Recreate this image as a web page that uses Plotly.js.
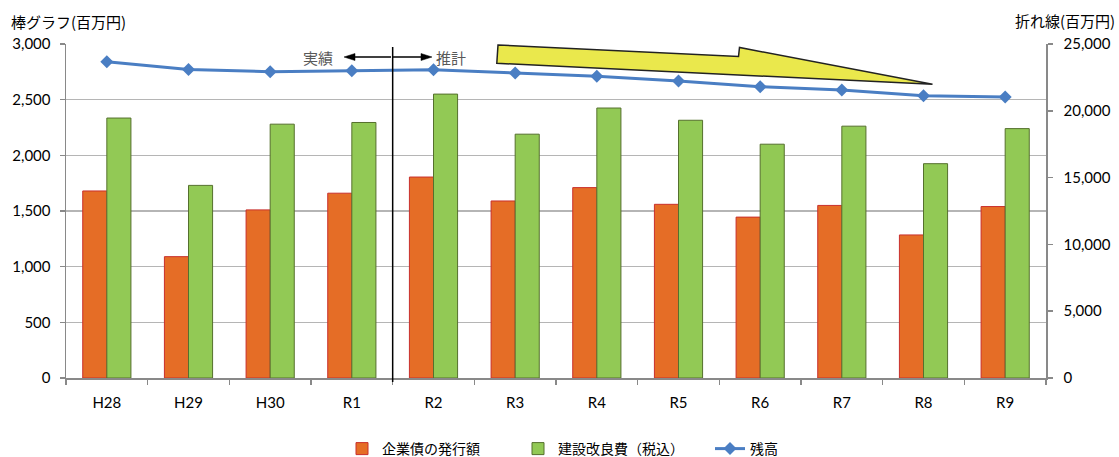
<!DOCTYPE html>
<html>
<head>
<meta charset="utf-8">
<script src="https://cdn.plot.ly/plotly-3.0.1.min.js"></script>
<style>
  html, body { margin: 0; padding: 0; background: #fff; }
  #chart { width: 1119px; height: 457px; }
</style>
</head>
<body>
<div id="chart"></div>
<script>
// Fiscal years
const categories = ['H28', 'H29', 'H30', 'R1', 'R2', 'R3', 'R4', 'R5', 'R6', 'R7', 'R8', 'R9'];
// 企業債の発行額 (百万円, left axis)
const bondIssue = [1680, 1090, 1510, 1660, 1805, 1590, 1710, 1560, 1445, 1550, 1285, 1540];
// 建設改良費（税込） (百万円, left axis)
const capex = [2335, 1730, 2280, 2295, 2550, 2190, 2425, 2315, 2100, 2262, 1925, 2240];
// 残高 (百万円, right axis)
const balance = [23670, 23100, 22930, 23000, 23080, 22830, 22580, 22230, 21800, 21560, 21130, 21030];

const leftTicks = [0, 500, 1000, 1500, 2000, 2500, 3000];
const rightTicks = [0, 5000, 10000, 15000, 20000, 25000];

const W = 1119, H = 457;
const M = { l: 66, r: 73, t: 44, b: 79, autoexpand: false };
const PW = W - M.l - M.r, PH = H - M.t - M.b;
// pixel position -> paper coordinate (for decorations only)
const px = x => (x - M.l) / PW;
const py = y => (H - M.b - y) / PH;

const FONT = 'Lato, "Liberation Sans", sans-serif';
const JP = '"Noto Sans CJK JP", "Noto Sans", sans-serif';
const AXIS = '#898989';

const traces = [
  {
    type: 'bar', name: '企業債の発行額', x: categories, y: bondIssue, yaxis: 'y', legendwidth: 131,
    marker: { color: '#E56D26', line: { color: '#C9302C', width: 1 } }
  },
  {
    type: 'bar', name: '建設改良費（税込）', x: categories, y: capex, yaxis: 'y', legendwidth: 147,
    marker: { color: '#92C955', line: { color: '#55702D', width: 1 } }
  },
  {
    type: 'scatter', mode: 'lines+markers', name: '残高', x: categories, y: balance, yaxis: 'y2',
    line: { color: '#4A7EC3', width: 3 },
    marker: { symbol: 'diamond', size: 10, color: '#4A7EC3' }
  }
];

// "実績 ← | → 推計" divider and arrows, plus the decreasing-trend wedge
const shapes = [
  { type: 'line', xref: 'x', yref: 'paper', x0: 3.5, x1: 3.5, y0: py(382), y1: py(47),
    line: { color: '#000', width: 1.5 } },
  { type: 'line', xref: 'paper', yref: 'paper', x0: px(391), x1: px(352), y0: py(57), y1: py(57),
    line: { color: '#000', width: 1.5 } },
  { type: 'path', xref: 'paper', yref: 'paper',
    path: `M ${px(344)},${py(57)} L ${px(355)},${py(53.5)} L ${px(355)},${py(60.5)} Z`,
    fillcolor: '#000', line: { color: '#000', width: 0.5 } },
  { type: 'line', xref: 'paper', yref: 'paper', x0: px(393), x1: px(423), y0: py(57), y1: py(57),
    line: { color: '#000', width: 1.5 } },
  { type: 'path', xref: 'paper', yref: 'paper',
    path: `M ${px(432)},${py(57)} L ${px(421)},${py(53.5)} L ${px(421)},${py(60.5)} Z`,
    fillcolor: '#000', line: { color: '#000', width: 0.5 } },
  { type: 'path', xref: 'paper', yref: 'paper',
    path: `M ${px(498)},${py(45)} L ${px(738.5)},${py(56.5)} L ${px(739.5)},${py(47.5)} ` +
          `L ${px(932.5)},${py(84.3)} L ${px(496.8)},${py(63.3)} Z`,
    fillcolor: '#EAE84C', line: { color: '#222', width: 1.5 } }
];

const annotations = [
  { text: '棒グラフ(百万円)', xref: 'paper', yref: 'paper', x: px(9), y: py(21),
    xanchor: 'left', yanchor: 'middle', showarrow: false, font: { family: JP, size: 15, color: '#000' } },
  { text: '折れ線(百万円)', xref: 'paper', yref: 'paper', x: px(1117), y: py(20),
    xanchor: 'right', yanchor: 'middle', showarrow: false, font: { family: JP, size: 15, color: '#000' } },
  { text: '実績', xref: 'paper', yref: 'paper', x: px(318), y: py(57),
    xanchor: 'center', yanchor: 'middle', showarrow: false, font: { family: JP, size: 15, color: '#595959' } },
  { text: '推計', xref: 'paper', yref: 'paper', x: px(451), y: py(57),
    xanchor: 'center', yanchor: 'middle', showarrow: false, font: { family: JP, size: 15, color: '#595959' } }
];

const layout = {
  width: W, height: H,
  margin: M,
  paper_bgcolor: '#fff', plot_bgcolor: '#fff',
  font: { family: FONT, size: 15, color: '#000' },
  separators: '.,',
  barmode: 'group', bargap: 0.41, bargroupgap: 0,
  showlegend: true,
  legend: {
    orientation: 'h', x: px(342), xanchor: 'left', y: py(449), yanchor: 'middle',
    font: { family: JP, size: 14, color: '#000' }, traceorder: 'normal'
  },
  xaxis: {
    type: 'category', range: [-0.5, categories.length - 0.5],
    showgrid: false, zeroline: false,
    showline: true, linecolor: AXIS, linewidth: 1.5,
    ticks: 'outside', tickson: 'boundaries', ticklen: 5, tickcolor: AXIS, tickwidth: 1.5,
    ticklabelstandoff: 10, tickfont: { family: FONT, size: 15 }
  },
  yaxis: {
    range: [0, 3000], tickvals: leftTicks, tickformat: ',d',
    showgrid: true, gridcolor: '#B5B5B5', gridwidth: 1.3, zeroline: false,
    showline: true, linecolor: AXIS, linewidth: 1.5,
    ticks: 'outside', ticklen: 5, tickcolor: AXIS, tickwidth: 1.5,
    ticklabelstandoff: 6, tickfont: { family: FONT, size: 15 }
  },
  yaxis2: {
    overlaying: 'y', side: 'right', range: [0, 25000], tickvals: rightTicks, tickformat: ',d',
    showgrid: false, zeroline: false,
    showline: true, linecolor: AXIS, linewidth: 1.5,
    ticks: 'outside', ticklen: 5, tickcolor: AXIS, tickwidth: 1.5,
    ticklabelstandoff: 8, tickfont: { family: FONT, size: 15 }
  },
  shapes: shapes,
  annotations: annotations
};

Plotly.newPlot('chart', traces, layout, { staticPlot: true, displayModeBar: false });
</script>
</body>
</html>
